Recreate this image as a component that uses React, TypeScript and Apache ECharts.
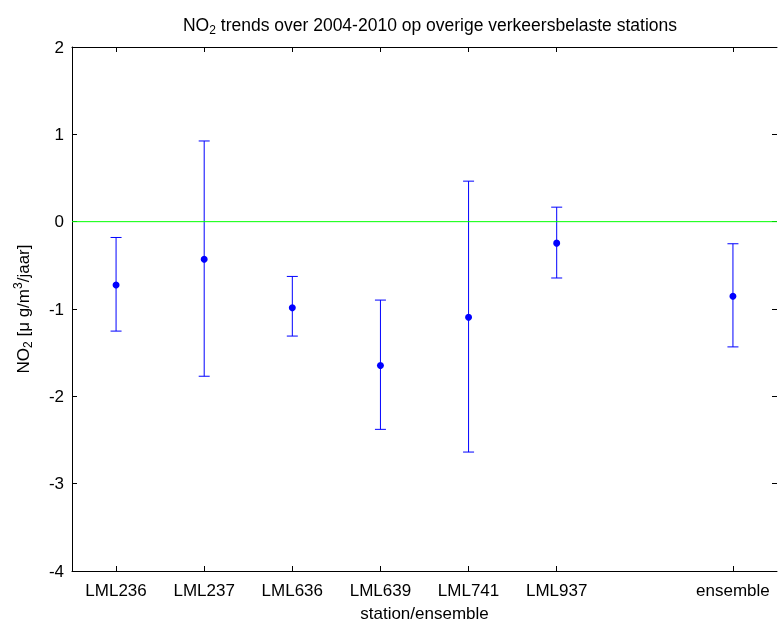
import React, { useEffect, useRef } from 'react';
import * as echarts from 'echarts';

const stations = ['LML236', 'LML237', 'LML636', 'LML639', 'LML741', 'LML937', 'ensemble'];
const slots = [1, 2, 3, 4, 5, 6, 8];
const trend = [-0.725, -0.43, -0.985, -1.646, -1.095, -0.246, -0.853];
const lower = [-1.253, -1.77, -1.31, -2.378, -2.638, -0.645, -1.434];
const upper = [-0.181, 0.924, -0.627, -0.898, 0.464, 0.166, -0.253];
const xMin = 0.5;
const xMax = 8.5;
const yMin = -4;
const yMax = 2;
const yInterval = 1;
const referenceLevel = 0;

const FONT = 'Liberation Sans, Arial, Helvetica, sans-serif';
const BLUE = '#0000ff';
const GREEN = '#00ff00';

export default function App() {
  const ref = useRef<HTMLDivElement>(null);
  useEffect(() => {
    if (!ref.current) return;
    const chart = echarts.init(ref.current, undefined, { renderer: 'svg' });
    const pointData = trend.map((v, i) => [slots[i], v]);
    const barData = trend.map((_, i) => [slots[i], lower[i], upper[i]]);
    const zeroLine = [
      [xMin, referenceLevel],
      [xMax, referenceLevel],
    ];
    const labelFor = (v: number) => {
      const k = slots.indexOf(Math.round(v));
      return k >= 0 && Math.abs(v - slots[k]) < 1e-6 ? stations[k] : '';
    };
    const xAxisCommon = (position: 'top' | 'bottom') => ({
      type: 'value',
      min: xMin,
      max: xMax,
      position,
      axisLine: { show: true, onZero: false, lineStyle: { color: '#000000', width: 1 } },
      axisTick: { show: true, inside: true, length: 5, customValues: slots, lineStyle: { color: '#000000' } },
      splitLine: { show: false },
    });
    const yAxisCommon = (position: 'left' | 'right', showLine: boolean) => ({
      type: 'value',
      min: yMin,
      max: yMax,
      interval: yInterval,
      position,
      axisLine: { show: showLine, onZero: false, lineStyle: { color: '#000000', width: 1 } },
      axisTick: { show: true, inside: true, length: 5, lineStyle: { color: '#000000' } },
      splitLine: { show: false },
    });
    chart.setOption({
      animation: false,
      title: {
        text: 'NO{sub|2} trends over 2004-2010 op overige verkeersbelaste stations',
        left: 425,
        top: 9,
        textAlign: 'center',
        textStyle: {
          fontFamily: FONT,
          fontSize: 17.5,
          fontWeight: 'normal',
          color: '#000',
          rich: {
            sub: { fontFamily: FONT, fontSize: 12, color: '#000', padding: [10, 0, 0, 0] },
          },
        },
      },
      grid: { left: 72, top: 47, right: 1, bottom: 50, containLabel: false },
      xAxis: [
        {
          ...xAxisCommon('bottom'),
          name: 'station/ensemble',
          nameLocation: 'middle',
          nameGap: 34,
          nameTextStyle: { fontFamily: FONT, fontSize: 17, color: '#000' },
          axisLabel: {
            show: true,
            customValues: slots,
            formatter: labelFor,
            margin: 11,
            fontFamily: FONT,
            fontSize: 17,
            color: '#000',
          },
        },
        {
          ...xAxisCommon('top'),
          axisLabel: { show: false },
        },
      ],
      yAxis: [
        {
          ...yAxisCommon('left', true),
          name: 'NO{sub|2} [μ g/m{sup|3}/jaar]',
          nameLocation: 'middle',
          nameRotate: 90,
          nameGap: 38,
          nameTextStyle: {
            fontFamily: FONT,
            fontSize: 17,
            color: '#000',
            rich: {
              sub: { fontFamily: FONT, fontSize: 12, color: '#000', padding: [10, 0, 0, 0] },
              sup: { fontFamily: FONT, fontSize: 12, color: '#000', padding: [0, 0, 10, 0] },
            },
          },
          axisLabel: { show: true, margin: 8, fontFamily: FONT, fontSize: 17, color: '#000' },
        },
        {
          ...yAxisCommon('right', false),
          axisLabel: { show: false },
        },
      ],
      series: [
        {
          type: 'line',
          data: zeroLine,
          symbol: 'none',
          silent: true,
          lineStyle: { color: GREEN, width: 1, type: 'solid' },
          itemStyle: { color: GREEN },
        },
        {
          type: 'custom',
          data: barData,
          silent: true,
          renderItem: (params: any, api: any) => {
            const x = api.value(0);
            const lo = api.coord([x, api.value(1)]);
            const hi = api.coord([x, api.value(2)]);
            const cap = 5.5;
            const style = { stroke: BLUE, lineWidth: 1, fill: 'none' };
            return {
              type: 'group',
              children: [
                { type: 'line', shape: { x1: lo[0], y1: lo[1], x2: hi[0], y2: hi[1] }, style },
                { type: 'line', shape: { x1: lo[0] - cap, y1: lo[1], x2: lo[0] + cap, y2: lo[1] }, style },
                { type: 'line', shape: { x1: hi[0] - cap, y1: hi[1], x2: hi[0] + cap, y2: hi[1] }, style },
              ],
            };
          },
        },
        {
          type: 'scatter',
          data: pointData,
          symbol: 'circle',
          symbolSize: 7,
          silent: true,
          itemStyle: { color: BLUE, opacity: 1 },
        },
      ],
    });
    return () => chart.dispose();
  }, []);
  return <div ref={ref} style={{ position: 'fixed', left: 0, top: 0, width: 778, height: 627 }} />;
}
